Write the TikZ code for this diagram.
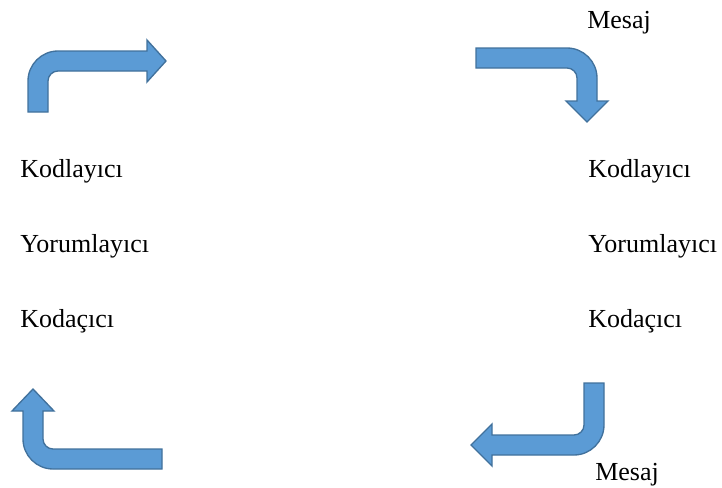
\documentclass[tikz,border=0pt]{standalone}
\usepackage{fontspec}
\setmainfont{Liberation Serif}
\usetikzlibrary{positioning}
\definecolor{okmavi}{HTML}{5B9BD5}
\definecolor{okkenar}{HTML}{41719C}
\tikzset{
    blokok/.style={fill=okmavi, draw=okkenar, line width=1pt, line join=miter},
    yazi/.style={anchor=base west, inner sep=0pt}
}
% #1: yerlestirme, #2: govde boyu, #3: bas tabani, #4: bas boyu
\newcommand{\donenok}[4]{%
    \begin{scope}[#1]
        \draw[blokok] (0,0) -- (0,#2-30) .. controls (0,#2-13.5) and (13.5,#2) .. (30,#2)
            -- (#3,#2) -- (#3,#2+11) -- (#3+#4,#2-10) -- (#3,#2-31) -- (#3,#2-20)
            -- (30,#2-20) .. controls (24.5,#2-20) and (20,#2-24.5) .. (20,#2-30)
            -- (20,0) -- cycle;
    \end{scope}}

\begin{document}
\begin{tikzpicture}[x=0.75pt, y=0.75pt, font=\fontsize{19.5}{23}\selectfont]
    \useasboundingbox (0,0) rectangle (722,487);
    % dort donen ok
    \donenok{shift={(28,375)}}{61}{119}{19}
    \donenok{shift={(476,439)}, rotate=-90}{121}{53}{21}
    \donenok{shift={(604,104)}, rotate=180}{72}{112}{21}
    \donenok{shift={(162,18)}, rotate=90}{139}{58}{22}
    % mesaj yazilari
    \node[yazi] (mesaj1) at (587,459) {Mesaj};
    \node[yazi] (mesaj2) at (595,7) {Mesaj};
    % iki sutun
    \foreach \t [count=\i] in {Kodlayıcı, Yorumlayıcı, Kodaçıcı} {
        \node[yazi] (sol\i) at (20,310-\i*75+75) {\t};
        \node[yazi] (sag\i) at (588,310-\i*75+75) {\t};
    }
\end{tikzpicture}
\end{document}
